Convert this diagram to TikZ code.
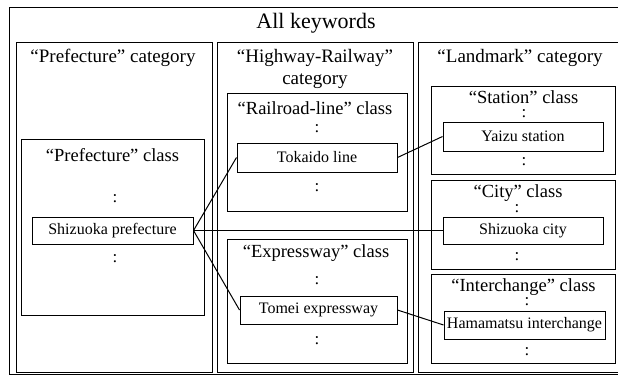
\documentclass[tikz,border=0pt]{standalone}
\usepackage{fontspec}
\setmainfont{Liberation Serif}
\usetikzlibrary{positioning}
\tikzset{
  frame/.style={draw=black, line width=1pt},
  headtext/.style={font=\fontsize{22}{24}\selectfont, inner sep=0pt},
  cattext/.style={font=\fontsize{19}{22}\selectfont, inner sep=0pt, align=center},
  classtext/.style={font=\fontsize{18.5}{20}\selectfont, inner sep=0pt},
  itembox/.style={draw=black, line width=1pt, font=\fontsize{16}{18}\selectfont, inner sep=0pt},
  vdots/.style={font=\fontsize{17}{19}\selectfont, inner sep=0pt},
  link/.style={line width=1pt},
}

\begin{document}
\begin{tikzpicture}[x=1pt, y=-1pt]
\clip (0,0) rectangle (618,375);
% outer frame and categories
\draw[frame] (9,7) rectangle (624,374);
\draw[frame] (16,42) rectangle (212,372);
\draw[frame] (217,42) rectangle (413,372);
\draw[frame] (418,42) rectangle (621,372);

% classes
\draw[frame] (21,139) rectangle (204,315);
\draw[frame] (227,93) rectangle (407,211);
\draw[frame] (227,239) rectangle (407,363);
\draw[frame] (431,86) rectangle (615,174);
\draw[frame] (431,180) rectangle (615,269);
\draw[frame] (431,274) rectangle (615,363);

% titles
\node[headtext] (all) at (316,23) {All keywords};
\node[cattext] (prefcat) at (113,58) {“Prefecture” category};
\node[cattext] (hwcat) at (315,69) {“Highway-Railway”\\category};
\node[cattext] (lmcat) at (520,58) {“Landmark” category};

\node[classtext] (prefcls) at (112.5,155) {“Prefecture” class};
\node[classtext] (railcls) at (315,108) {“Railroad-line” class};
\node[classtext] (expcls) at (316,253) {“Expressway” class};
\node[classtext] (stacls) at (523.5,97) {“Station” class};
\node[classtext] (citycls) at (518,193) {“City” class};
\node[classtext] (iccls) at (523.5,287) {“Interchange” class};

% keywords
\node[itembox, minimum width=161pt, minimum height=27pt] (shizpref) at (112.5,230.5) {Shizuoka prefecture};
\node[itembox, minimum width=160pt, minimum height=29pt] (tokaido) at (317,157.5) {Tokaido line};
\node[itembox, minimum width=157pt, minimum height=28pt] (tomei) at (318.5,310) {Tomei expressway};
\node[itembox, minimum width=160pt, minimum height=29pt] (yaizu) at (523,136.5) {Yaizu station};
\node[itembox, minimum width=160pt, minimum height=27pt] (shizcity) at (523,230.5) {Shizuoka city};
\node[itembox, minimum width=161pt, minimum height=28pt] (hamamatsu) at (524.5,325) {Hamamatsu interchange};

% vertical dots
\node[vdots] (prefup) at (115,199) {:};
\node[vdots] (prefdown) at (115,259) {:};
\node[vdots] (railup) at (317,129) {:};
\node[vdots] (raildown) at (317,188) {:};
\node[vdots] (expup) at (317,281) {:};
\node[vdots] (expdown) at (317,341) {:};
\node[vdots] (staup) at (524,114) {:};
\node[vdots] (stadown) at (524,162) {:};
\node[vdots] (cityup) at (517,209) {:};
\node[vdots] (citydown) at (517,257) {:};
\node[vdots] (icup) at (527,302) {:};
\node[vdots] (icdown) at (527,352) {:};

% links
\draw[link] (shizpref.east) -- (tokaido.west);
\draw[link] (shizpref.east) -- (shizcity.west);
\draw[link] (shizpref.east) -- (tomei.west);
\draw[link] (tokaido.east) -- (yaizu.west);
\draw[link] (tomei.east) -- (hamamatsu.west);
\end{tikzpicture}
\end{document}
